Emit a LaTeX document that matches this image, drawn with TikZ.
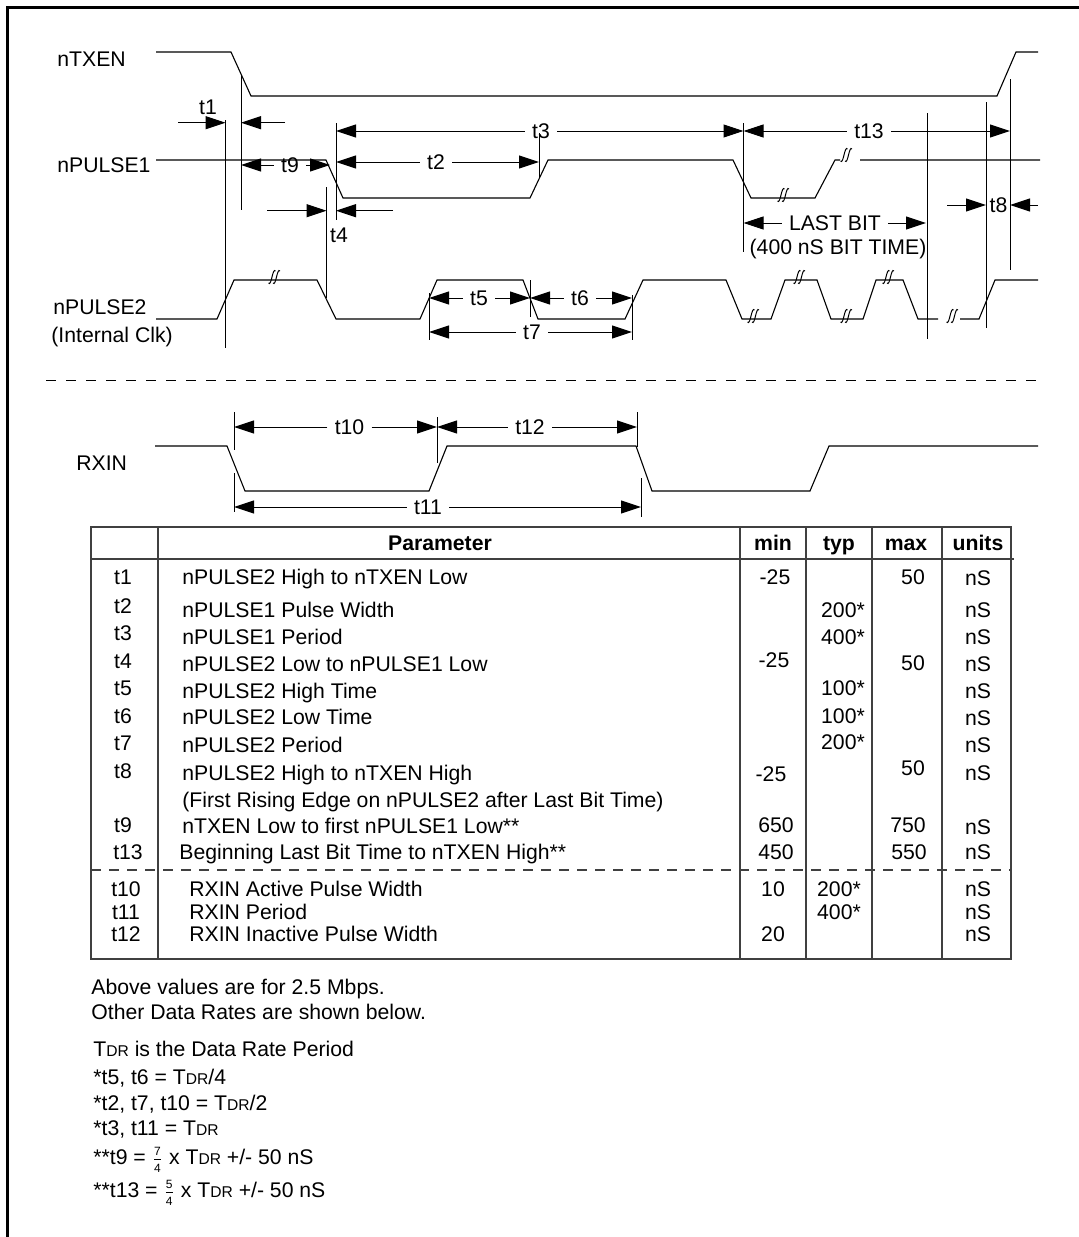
\documentclass[tikz,border=0pt]{standalone}
\usepackage{amsmath}
\usepackage{fontspec}
\setmainfont{Liberation Sans}
\usetikzlibrary{arrows.meta}

% data rate period and small fractions
\newcommand{\tdr}{T{\fontsize{7.8}{8}\selectfont DR}}
\newcommand{\qfrac}[2]{$\genfrac{}{}{0.4pt}{}{\mbox{\fontsize{6}{6}\selectfont #1}}{\mbox{\fontsize{6}{6}\selectfont #2}}$}

\tikzset{
  sig/.style={line width=0.55pt},
  guide/.style={line width=0.5pt},
  dim/.style={line width=0.5pt,-{Triangle[length=10pt,width=6.5pt]}},
  lbl/.style={inner sep=3.5pt},
  tabline/.style={line width=0.6pt,black!75},
  brk/.pic={
    \draw[line width=0.5pt] (-5.5,6) .. controls (-2.5,10) and (-1.5,-10) .. (1.5,-6);
    \draw[line width=0.5pt] (-1,6) .. controls (2,10) and (3,-10) .. (6,-6);
  }
}

\begin{document}
\begin{tikzpicture}[x=0.5pt,y=-0.5pt,
  every node/.style={font=\fontsize{10.6}{12.7}\selectfont,text height=7.6pt,text depth=0pt}]
\useasboundingbox (0,0) rectangle (1078,1237);

% frame
\draw[line width=1.4pt] (7.5,1240) -- (7.5,7.5) -- (1080,7.5);

% signal names
\node[anchor=west,inner sep=0] (nTXEN) at (57,59) {nTXEN};
\node[anchor=west,inner sep=0] (nP1) at (57,165) {nPULSE1};
\node[anchor=west,inner sep=0] (nP2) at (53,307) {nPULSE2};
\node[anchor=west,inner sep=0] (clk) at (51,335) {(Internal Clk)};
\node[anchor=west,inner sep=0] (RXIN) at (76,463) {RXIN};

% waveforms
\draw[sig] (156,52) -- (231,52) -- (251,96) -- (997,96) -- (1016,52) -- (1038,52);
\draw[sig] (156,160) -- (326,160) -- (343,198) -- (530,198) -- (548,160) -- (733,160)
  -- (751,198) -- (815,198) -- (835,160) -- (840,160) (860,160) -- (1040,160);
\draw[sig] (156,319) -- (217,319) -- (234,280) -- (317,280) -- (336,319) -- (420,319)
  -- (437,280) -- (523,280) -- (538,319) -- (625,319) -- (643,280) -- (726,280)
  -- (742,319) -- (771,319) -- (785,280) -- (817,280) -- (831,319) -- (863,319)
  -- (876,280) -- (903,280) -- (918,319) -- (938,319)
  (960,319) -- (979,319) -- (995,280) -- (1038,280);
\draw[sig] (155,446) -- (227,446) -- (245,491) -- (429,491) -- (447,446) -- (636,446)
  -- (652,491) -- (810,491) -- (829,446) -- (1038,446);

% breaks
\foreach \bx/\by in {846/155,783/195,274/277,799/277,888/277,753/316,846/316,952/316}
  \pic at (\bx,\by) {brk};

% timing reference lines
\foreach \gx/\ga/\gb in {241/75/210, 225.5/120/348, 336/123/220, 326.5/187/298,
    539/133/178, 743.5/123/252, 927/113/339, 986/102/328, 1010/79/270,
    429/293/340, 530/280/317, 632/295/340,
    234/412/450, 234/473/512, 437/417/463, 637/412/447, 641/478/517}
  \draw[guide] (\gx,\ga) -- (\gx,\gb);

% dimension arrows with the label in between
\foreach \lab/\lx/\ly/\xa/\xb in {t9/290/165/241/330, t3/541/131/336/743.5,
    t13/869/131/743.5/1010, t2/436/162/336/539, t5/479/298/429/530,
    t6/580/298/530/632, t7/532/332/429/632, t10/349.5/427/234/437,
    t12/530/427/437/637, t11/428/507/234/641}
{
  \node[lbl] (\lab) at (\lx,\ly) {\lab};
  \draw[dim] (\lab.west) -- (\xa,\ly);
  \draw[dim] (\lab.east) -- (\xb,\ly);
}
\node[lbl] (last) at (835,223) {LAST BIT};
\draw[dim] (last.west) -- (743.5,223);
\draw[dim] (last.east) -- (926,223);
\node (bittime) at (838,247) {(400 nS BIT TIME)};

% arrows pointing in from outside
\node (t1) at (208,107) {t1};
\coordinate (t1a) at (178,122.7);
\coordinate (t1b) at (285,122.7);
\draw[dim] (t1a) -- (225.5,122.7);
\draw[dim] (t1b) -- (241,122.7);
\node (t4) at (339,235) {t4};
\coordinate (t4a) at (267,210.7);
\coordinate (t4b) at (393,210.7);
\draw[dim] (t4a) -- (326.5,210.7);
\draw[dim] (t4b) -- (336,210.7);
\node (t8) at (998.5,205) {t8};
\coordinate (t8a) at (947,205);
\coordinate (t8b) at (1038,205);
\draw[dim] (t8a) -- (986,205);
\draw[dim] (t8b) -- (1010,205);

% separator
\draw[line width=0.5pt,dash pattern=on 5pt off 5pt] (46,380) -- (1038,380);

% table
\draw[tabline] (91,527) rectangle (1011,959);
\draw[tabline] (91,559) -- (1014,559);
\foreach \cx in {158,740,806,872,942}
  \draw[tabline] (\cx,527) -- (\cx,959);
\draw[tabline,dash pattern=on 5pt off 4pt] (91,870) -- (1011,870);

\node[font=\fontsize{10.6}{12.7}\selectfont\bfseries] (hpar) at (440,543) {Parameter};
\foreach \h/\hx in {min/773,typ/839,max/906,units/978}
  \node[font=\fontsize{10.6}{12.7}\selectfont\bfseries] (h\h) at (\hx,543) {\h};

\foreach \n/\lx/\ly/\tx/\ty/\txt in {
    t1/123/577/182/577/{nPULSE2 High to nTXEN Low},
    t2/123/606/182/610/{nPULSE1 Pulse Width},
    t3/123/633/182/637/{nPULSE1 Period},
    t4/123/661/182/664/{nPULSE2 Low to nPULSE1 Low},
    t5/123/688/182/691/{nPULSE2 High Time},
    t6/123/716/182/717/{nPULSE2 Low Time},
    t7/123/743/182/745/{nPULSE2 Period},
    t8/123/771/182/773/{nPULSE2 High to nTXEN High},
    t9/123/825/182/826/{nTXEN Low to first nPULSE1 Low**},
    t13/128/852/179/852/{Beginning Last Bit Time to nTXEN High**},
    t10/126/889/189/889/{RXIN Active Pulse Width},
    t11/126/912/189/912/{RXIN Period},
    t12/126/934/189/934/{RXIN Inactive Pulse Width}}
{
  \node (row\n) at (\lx,\ly) {\n};
  \node[anchor=west,inner sep=0] (par\n) at (\tx,\ty) {\txt};
}
\node[anchor=west,inner sep=0] (part8b) at (182,800) {(First Rising Edge on nPULSE2 after Last Bit Time)};

\foreach \v/\vx/\vy [count=\k] in {-25/775/577, -25/774/660, -25/771/774, 650/776/825,
    450/776/852, 10/773/889, 20/773/934,
    200*/843/610, 400*/843/637, 100*/843/688, 100*/843/716, 200*/843/742,
    200*/839/889, 400*/839/912,
    50/913/577, 50/913/663, 50/913/768, 750/908/825, 550/909/852}
  \node (val\k) at (\vx,\vy) {\v};
\foreach \uy [count=\k] in {578,610,637,664,691,718,745,773,827,852,889,912,934}
  \node (unit\k) at (978,\uy) {nS};

% notes
\node[anchor=west,inner sep=0] (note1) at (91,987) {Above values are for 2.5 Mbps.};
\node[anchor=west,inner sep=0] (note2) at (91,1012) {Other Data Rates are shown below.};
\node[anchor=west,inner sep=0] (note3) at (93,1049) {\tdr{} is the Data Rate Period};
\node[anchor=west,inner sep=0] (note4) at (93,1077) {*t5, t6 = \tdr/4};
\node[anchor=west,inner sep=0] (note5) at (93,1103) {*t2, t7, t10 = \tdr/2};
\node[anchor=west,inner sep=0] (note6) at (93,1128) {*t3, t11 = \tdr};
\node[anchor=west,inner sep=0] (note7) at (93,1157) {**t9 = \qfrac{7}{4} x \tdr{} +/- 50 nS};
\node[anchor=west,inner sep=0] (note8) at (93,1190) {**t13 = \qfrac{5}{4} x \tdr{} +/- 50 nS};

\end{tikzpicture}
\end{document}
